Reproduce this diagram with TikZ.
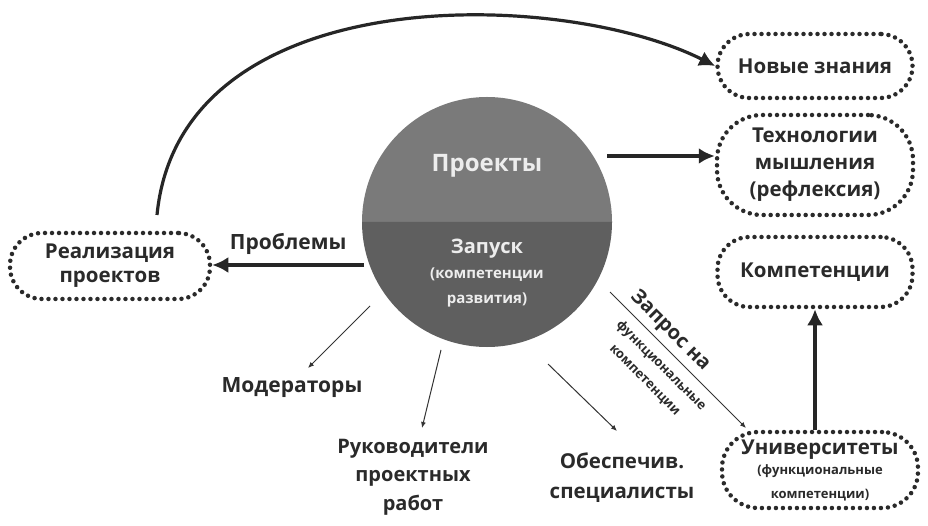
\documentclass[tikz,border=0pt]{standalone}
\usepackage{fontspec}
\setmainfont{Open Sans}
\usetikzlibrary{arrows.meta}
\definecolor{txt}{HTML}{2A2A2A}
\definecolor{topg}{HTML}{7A7A7A}
\definecolor{botg}{HTML}{5F5F5F}
\definecolor{ctext}{HTML}{EDEDED}
\newcommand{\smallf}{\fontsize{13}{18}\selectfont}
\tikzset{
  dotbox/.style={draw=txt, line width=4.5pt, line cap=round, dash pattern=on 0pt off 7pt,
    rounded corners=32pt, align=center, text=txt, font=\fontsize{20.5}{24}\selectfont\bfseries, inner sep=0pt},
  lbl/.style={text=txt, align=center, font=\fontsize{21}{29}\selectfont\bfseries},
  thick arr/.style={draw=black!85, line width=3.2pt, -{Latex[length=16pt,width=16pt]}},
  thin arr/.style={draw=black!80, line width=1pt, -{Latex[length=6pt,width=5pt]}},
}
\begin{document}
\begin{tikzpicture}[x=1pt,y=-1pt]
\useasboundingbox (0,0) rectangle (928,526);
% circle
\fill[topg] (362,222) arc[start angle=180,end angle=360,radius=125] -- cycle;
\fill[botg] (362,222) arc[start angle=180,end angle=0,radius=125] -- cycle;
\coordinate (cc) at (487,222);
\node[text=ctext, font=\fontsize{24}{28}\selectfont\bfseries] (proj) at (487,166) {Проекты};
\node[text=ctext, align=center, font=\fontsize{15}{25}\selectfont\bfseries] (zap) at (487,273)
  {\fontsize{20}{24}\selectfont Запуск\\\fontsize{15}{25}\selectfont(компетенции\\\fontsize{15}{25}\selectfont развития)};
% right boxes
\node[dotbox, minimum width=195pt, minimum height=64pt] (nz) at (815,66) {Новые знания};
\node[dotbox, minimum width=196pt, minimum height=100pt, rounded corners=45pt, font=\fontsize{20.5}{27}\selectfont\bfseries] (tm) at (815,165) {Технологии\\мышления\\(рефлексия)};
\node[dotbox, minimum width=195pt, minimum height=70pt] (komp) at (815,272) {Компетенции};
\node[dotbox, minimum width=196pt, minimum height=76pt, rounded corners=36pt] (univ) at (820,470)
  {Университеты\\[-4pt]\smallf (функциональные\\\smallf компетенции)};
\node[dotbox, minimum width=200pt, minimum height=66pt] (real) at (110,266) {Реализация\\проектов};
% labels
\node[lbl] (mod) at (292,388) {Модераторы};
\node[lbl, font=\fontsize{20}{28.5}\selectfont\bfseries] (ruk) at (413,477) {Руководители\\проектных\\работ};
\node[lbl, font=\fontsize{20.5}{30}\selectfont\bfseries] (obs) at (622,478) {Обеспечив.\\специалисты};
% arrows
\coordinate (cstart) at (157,215);
\draw[thick arr] (cstart) .. controls (180,-22) and (560,-12) .. (nz.west);
\coordinate (pr1) at (607,156);
\draw[thick arr] (pr1) -- (tm.west |- pr1);
\coordinate (pb1) at (364,265);
\draw[thick arr] (pb1) -- (real.east |- pb1) node[midway, above=6pt, lbl] (probl) {Проблемы};
\draw[thick arr] (univ.north -| komp.south) -- (komp.south);
\coordinate (z1) at (610,292);
\coordinate (z2) at (746,428);
\draw[thin arr] (z1) -- (z2);
\node[rotate=-45, text=txt, font=\fontsize{20}{24}\selectfont\bfseries, inner sep=0pt] (zapr) at (670,331) {Запрос на};
\node[rotate=-45, text=txt, font=\fontsize{13}{17}\selectfont\bfseries, inner sep=0pt] (fk1) at (661,366) {функциональные};
\node[rotate=-45, text=txt, font=\fontsize{13}{17}\selectfont\bfseries, inner sep=0pt] (fk2) at (644,381) {компетенции};
\coordinate (m1) at (370,306);
\draw[thin arr] (m1) -- (308,368);
\coordinate (r1) at (441,350);
\draw[thin arr] (r1) -- (422,428);
\coordinate (o1) at (548,364);
\draw[thin arr] (o1) -- (617,431);
\end{tikzpicture}
\end{document}
